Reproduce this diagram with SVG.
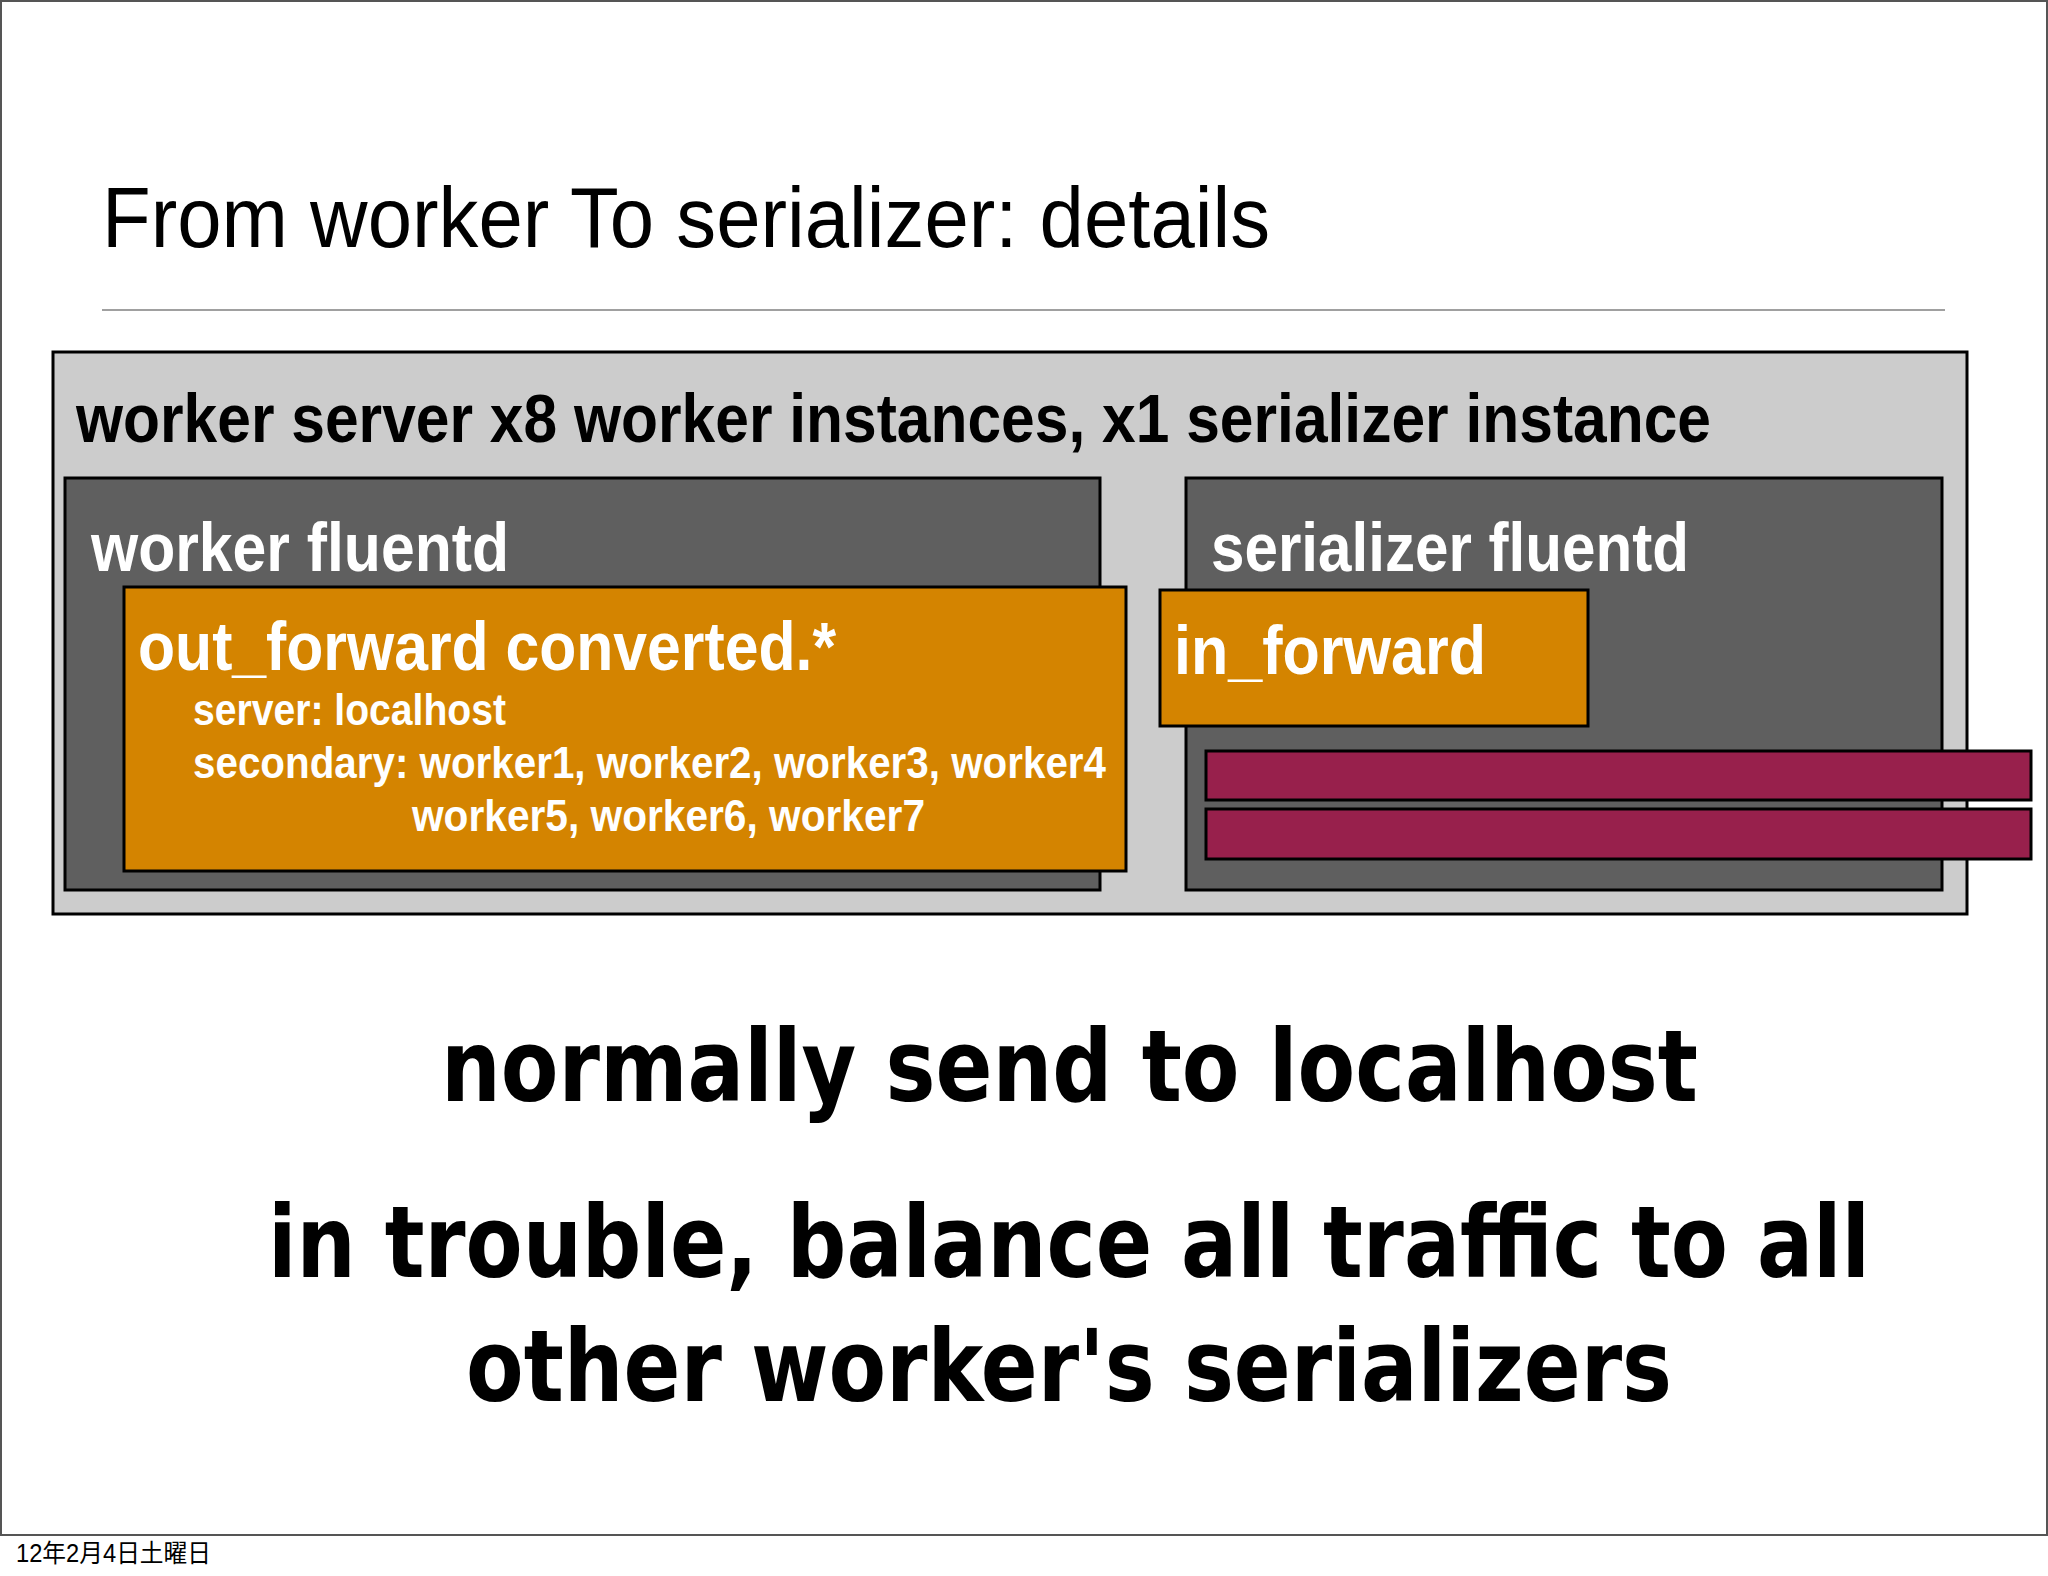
<svg xmlns="http://www.w3.org/2000/svg" width="2048" height="1576" viewBox="0 0 2048 1576">
<style>
.cond{font-family:"Liberation Sans Narrow","Liberation Sans",Arial,sans-serif;font-weight:bold;}
.big{font-family:"DejaVu Sans Condensed","DejaVu Sans","Noto Sans",sans-serif;font-stretch:condensed;font-weight:bold;font-size:100px;fill:#000;}
.box{stroke:#000;stroke-width:3;}
.w{fill:#fff;}
</style>
<rect x="1" y="1" width="2046" height="1534" fill="#fff" stroke="#555" stroke-width="2"/>
<text x="102" y="247" font-family="Liberation Sans, Arial, sans-serif" font-size="86" fill="#000" textLength="1168" lengthAdjust="spacingAndGlyphs">From worker To serializer: details</text>
<line x1="102" y1="310" x2="1945" y2="310" stroke="#a0a0a0" stroke-width="2"/>
<g id="worker-server">
<rect class="box" x="53" y="352" width="1914" height="562" fill="#cccccc"/>
<text class="cond" x="76" y="442" font-size="68" fill="#000" textLength="1635" lengthAdjust="spacingAndGlyphs">worker server x8 worker instances, x1 serializer instance</text>
</g>
<g id="worker-fluentd">
<rect class="box" x="65" y="478" width="1035" height="412" fill="#5f5f5f"/>
<text class="cond w" x="91" y="571" font-size="68" textLength="418" lengthAdjust="spacingAndGlyphs">worker fluentd</text>
</g>
<g id="serializer-fluentd">
<rect class="box" x="1186" y="478" width="756" height="412" fill="#5f5f5f"/>
<text class="cond w" x="1211" y="571" font-size="68" textLength="478" lengthAdjust="spacingAndGlyphs">serializer fluentd</text>
</g>
<g id="out-forward">
<rect class="box" x="124" y="587" width="1002" height="284" fill="#d48400"/>
<text class="cond w" x="138" y="670" font-size="68" textLength="698" lengthAdjust="spacingAndGlyphs">out_forward converted.*</text>
<text class="cond w" x="193" y="725" font-size="45" textLength="313" lengthAdjust="spacingAndGlyphs">server: localhost</text>
<text class="cond w" x="193" y="778" font-size="45" textLength="913" lengthAdjust="spacingAndGlyphs">secondary: worker1, worker2, worker3, worker4</text>
<text class="cond w" x="412" y="831" font-size="45" textLength="513" lengthAdjust="spacingAndGlyphs">worker5, worker6, worker7</text>
</g>
<g id="in-forward">
<rect class="box" x="1160" y="590" width="428" height="136" fill="#d48400"/>
<text class="cond w" x="1174" y="674" font-size="68" textLength="312" lengthAdjust="spacingAndGlyphs">in_forward</text>
</g>
<g id="bar1">
<rect class="box" x="1206" y="751" width="825" height="49" fill="#98204c"/>
</g>
<g id="bar2">
<rect class="box" x="1206" y="809" width="825" height="50" fill="#98204c"/>
</g>
<g id="connectors"></g>
<text class="big" x="441" y="1101" textLength="1257" lengthAdjust="spacingAndGlyphs">normally send to localhost</text>
<text class="big" x="268" y="1277" textLength="1602" lengthAdjust="spacingAndGlyphs">in trouble, balance all traffic to all</text>
<text class="big" x="466" y="1401" textLength="1206" lengthAdjust="spacingAndGlyphs">other worker's serializers</text>
<text x="16" y="1562" font-family="Liberation Sans, Noto Sans CJK JP, sans-serif" font-size="25" fill="#000" textLength="195" lengthAdjust="spacingAndGlyphs">12年2月4日土曜日</text>
</svg>
